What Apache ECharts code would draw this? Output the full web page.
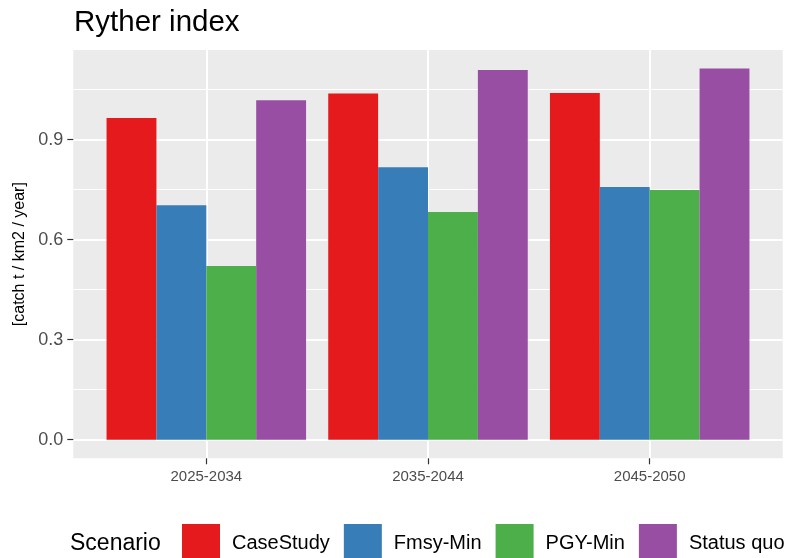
<!DOCTYPE html>
<html>
<head>
<meta charset="utf-8">
<script src="https://cdn.jsdelivr.net/npm/echarts@6/dist/echarts.min.js"></script>
<style>
  html,body{margin:0;padding:0;background:#fff}
  #chart{width:788px;height:558px}
</style>
</head>
<body>
<div id="chart"></div>
<script>
const periods=['2025-2034','2035-2044','2045-2050']
const scenarios=['CaseStudy','Fmsy-Min','PGY-Min','Status quo']
const caseStudy=[0.965,1.038,1.040]
const fmsyMin=[0.703,0.817,0.758]
const pgyMin=[0.521,0.683,0.749]
const statusQuo=[1.018,1.109,1.113]
const yTicks=[0,0.3,0.6,0.9]
const yMinor=[0.15,0.45,0.75,1.05]
const colors=['#E41A1C','#377EB8','#4DAF4A','#984EA3']

const xPos=periods.map((p,i)=>i+1)
const allValues=[caseStudy,fmsyMin,pgyMin,statusQuo]

const myChart=echarts.init(document.querySelector('#chart'))

// ggplot expands continuous axes 5%, discrete axis 0.6
const maxVal=Math.max(...allValues.flat())
const yMin=-maxVal*0.05, yMax=maxVal*1.05

const option={
  animation:false,
  color:colors,
  title:[{
    text:'Ryther index',
    left:74,
    top:8,
    padding:0,
    textStyle:{fontSize:29.5,fontWeight:'normal',color:'#000',fontFamily:'Liberation Sans'}
  },{
    text:'Scenario',
    left:70,
    top:532,
    padding:0,
    textStyle:{fontSize:23,fontWeight:'normal',color:'#000',fontFamily:'Liberation Sans'}
  }],
  legend:{
    data:scenarios,
    left:182,
    top:524,
    padding:0,
    itemWidth:38,
    itemHeight:38,
    itemGap:14,
    icon:'rect',
    textStyle:{fontSize:20,color:'#000',fontFamily:'Liberation Sans',padding:[0,0,0,7]}
  },
  grid:{
    left:73.3,right:5.3,top:50,bottom:99.7,
    containLabel:false,
    show:true,
    backgroundColor:'#EBEBEB',
    borderWidth:0
  },
  xAxis:{
    type:'value',
    position:'bottom',
    min:0.4,
    max:periods.length+0.6,
    axisLine:{show:false,onZero:false},
    axisTick:{show:true,inside:false,length:6,customValues:xPos,lineStyle:{color:'#333',width:1.2}},
    axisLabel:{
      customValues:xPos,
      margin:11,
      fontSize:15,
      color:'#4D4D4D',
      fontFamily:'Liberation Sans',
      formatter:v=>periods[Math.round(v)-1]
    },
    splitLine:{show:true,lineStyle:{color:'#fff',width:2}}
  },
  yAxis:[{
    type:'value',
    position:'left',
    min:yMin,
    max:yMax,
    name:'[catch t / km2 / year]',
    nameLocation:'middle',
    nameGap:46,
    nameTextStyle:{fontSize:16,color:'#000',fontFamily:'Liberation Sans'},
    axisLine:{show:false,onZero:false},
    axisTick:{show:true,inside:false,length:6,customValues:yTicks,lineStyle:{color:'#333',width:1.2}},
    axisLabel:{
      customValues:yTicks,
      margin:10,
      fontSize:18,
      color:'#4D4D4D',
      fontFamily:'Liberation Sans',
      formatter:v=>v.toFixed(1)
    },
    splitLine:{show:true,lineStyle:{color:'#fff',width:2}}
  },{
    type:'value',
    position:'right',
    min:yMin,
    max:yMax,
    axisLine:{show:false,onZero:false},
    axisTick:{show:false,customValues:yMinor},
    axisLabel:{show:false,customValues:yMinor},
    splitLine:{show:true,lineStyle:{color:'#fff',width:1}}
  }],
  series:scenarios.map((name,k)=>({
    name:name,
    type:'bar',
    barGap:0,
    barCategoryGap:'10%',
    data:allValues[k].map((v,i)=>[xPos[i],v])
  }))
}

myChart.setOption(option)
</script>
</body>
</html>
